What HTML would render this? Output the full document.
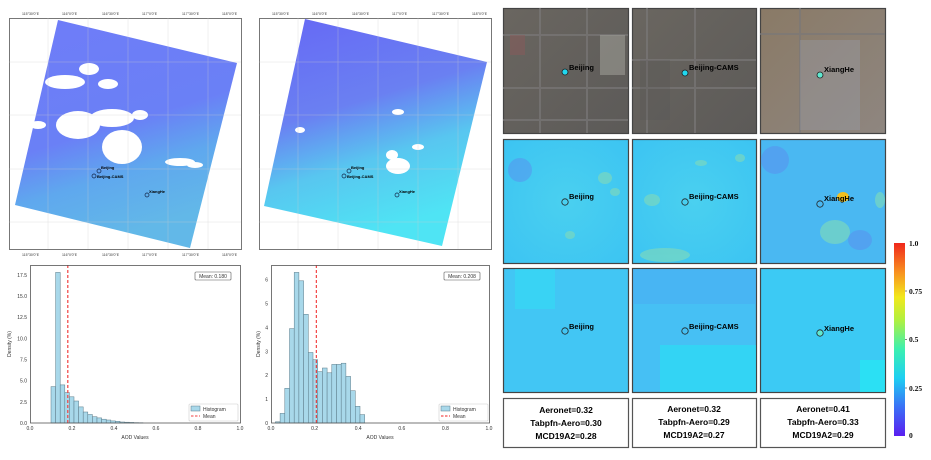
<!DOCTYPE html>
<html><head><meta charset="utf-8"><style>
body{margin:0;background:#fff;width:931px;height:460px;overflow:hidden}
svg{display:block;font-family:"Liberation Sans",sans-serif}
</style></head><body>
<svg width="931" height="460" viewBox="0 0 931 460" xmlns="http://www.w3.org/2000/svg">
<defs>
<linearGradient id="m1" x1="0" y1="0" x2="0.3" y2="1">
<stop offset="0" stop-color="#6f7cf8"/><stop offset="0.55" stop-color="#6a80f6"/><stop offset="0.75" stop-color="#5fa8ee"/><stop offset="1" stop-color="#62b8e8"/></linearGradient>
<linearGradient id="m2" x1="0" y1="0" x2="0.3" y2="1">
<stop offset="0" stop-color="#6668f5"/><stop offset="0.45" stop-color="#6a80f2"/><stop offset="0.7" stop-color="#58c6f0"/><stop offset="1" stop-color="#4fe4f4"/></linearGradient>
<linearGradient id="cb" x1="0" y1="1" x2="0" y2="0">
<stop offset="0" stop-color="#5a1ef0"/><stop offset="0.15" stop-color="#3a70f6"/><stop offset="0.3" stop-color="#1ecff2"/><stop offset="0.45" stop-color="#3cf0b0"/><stop offset="0.6" stop-color="#b0f040"/><stop offset="0.72" stop-color="#f2e81c"/><stop offset="0.85" stop-color="#f89020"/><stop offset="1" stop-color="#f0281c"/></linearGradient>
<linearGradient id="sat1" x1="0" y1="0" x2="1" y2="1"><stop offset="0" stop-color="#6a6660"/><stop offset="1" stop-color="#5c5a58"/></linearGradient>
<linearGradient id="sat3" x1="0" y1="0" x2="1" y2="1"><stop offset="0" stop-color="#8a7a66"/><stop offset="1" stop-color="#8e8680"/></linearGradient>
<radialGradient id="hm" cx="0.5" cy="0.5" r="0.7"><stop offset="0" stop-color="#4ad0f0"/><stop offset="1" stop-color="#3cc4f2"/></radialGradient>
</defs>

<!-- Map 1 -->
<rect x="9.5" y="18.5" width="232" height="231" fill="#fff" stroke="#777" stroke-width="1"/>
<polygon points="58,20 237,63 190,248 15,205" fill="url(#m1)"/>
<g fill="#fff">
<ellipse cx="89" cy="69" rx="10" ry="6"/><ellipse cx="65" cy="82" rx="20" ry="7"/><ellipse cx="108" cy="84" rx="10" ry="5"/>
<ellipse cx="78" cy="125" rx="22" ry="14"/><ellipse cx="112" cy="118" rx="22" ry="9"/><ellipse cx="122" cy="147" rx="20" ry="17"/>
<ellipse cx="140" cy="115" rx="8" ry="5"/><ellipse cx="180" cy="162" rx="15" ry="4"/><ellipse cx="195" cy="165" rx="8" ry="3"/>
<ellipse cx="38" cy="125" rx="8" ry="4"/>
</g>
<g stroke="#ccc" stroke-width="0.5" opacity="0.6">
<line x1="48" y1="18" x2="48" y2="249"/><line x1="88" y1="18" x2="88" y2="249"/><line x1="128" y1="18" x2="128" y2="249"/><line x1="168" y1="18" x2="168" y2="249"/><line x1="208" y1="18" x2="208" y2="249"/>
<line x1="9" y1="62" x2="241" y2="62"/><line x1="9" y1="115" x2="241" y2="115"/><line x1="9" y1="169" x2="241" y2="169"/><line x1="9" y1="222" x2="241" y2="222"/>
</g>
<g font-size="3.5" fill="#333"><text x="22" y="15">115°30'0"E</text><text x="62" y="15">116°0'0"E</text><text x="102" y="15">116°30'0"E</text><text x="142" y="15">117°0'0"E</text><text x="182" y="15">117°30'0"E</text><text x="222" y="15">118°0'0"E</text>
<text x="22" y="256">115°30'0"E</text><text x="62" y="256">116°0'0"E</text><text x="102" y="256">116°30'0"E</text><text x="142" y="256">117°0'0"E</text><text x="182" y="256">117°30'0"E</text><text x="222" y="256">118°0'0"E</text></g>
<g fill="none" stroke="#124" stroke-width="0.7"><circle cx="99" cy="171" r="2"/><circle cx="94" cy="176" r="2"/><circle cx="147" cy="195" r="2"/></g>
<g font-size="4" font-weight="bold" fill="#000"><text x="101" y="169">Beijing</text><text x="97" y="178">Beijing-CAMS</text><text x="149" y="193">XiangHe</text></g>

<!-- Map 2 -->
<rect x="259.5" y="18.5" width="232" height="231" fill="#fff" stroke="#777" stroke-width="1"/>
<polygon points="305,19 487,62 442,246 264,206" fill="url(#m2)"/>
<g fill="#fff"><ellipse cx="398" cy="112" rx="6" ry="3"/><ellipse cx="398" cy="166" rx="12" ry="8"/><ellipse cx="392" cy="155" rx="6" ry="5"/><ellipse cx="300" cy="130" rx="5" ry="3"/><ellipse cx="418" cy="147" rx="6" ry="3"/></g>
<g stroke="#ccc" stroke-width="0.5" opacity="0.6">
<line x1="298" y1="18" x2="298" y2="249"/><line x1="338" y1="18" x2="338" y2="249"/><line x1="378" y1="18" x2="378" y2="249"/><line x1="418" y1="18" x2="418" y2="249"/><line x1="458" y1="18" x2="458" y2="249"/>
<line x1="259" y1="62" x2="491" y2="62"/><line x1="259" y1="115" x2="491" y2="115"/><line x1="259" y1="169" x2="491" y2="169"/><line x1="259" y1="222" x2="491" y2="222"/>
</g>
<g font-size="3.5" fill="#333"><text x="272" y="15">115°30'0"E</text><text x="312" y="15">116°0'0"E</text><text x="352" y="15">116°30'0"E</text><text x="392" y="15">117°0'0"E</text><text x="432" y="15">117°30'0"E</text><text x="472" y="15">118°0'0"E</text></g>
<g fill="none" stroke="#124" stroke-width="0.7"><circle cx="349" cy="171" r="2"/><circle cx="344" cy="176" r="2"/><circle cx="397" cy="195" r="2"/></g>
<g font-size="4" font-weight="bold" fill="#000"><text x="351" y="169">Beijing</text><text x="347" y="178">Beijing-CAMS</text><text x="399" y="193">XiangHe</text></g>

<!-- Hist 1 -->
<g fill="#a8d8ea" stroke="#5a7a88" stroke-width="0.5">
<rect x="51" y="386.6" width="4.6" height="36.4"/><rect x="55.6" y="272.4" width="4.6" height="150.6"/><rect x="60.2" y="384.9" width="4.6" height="38.1"/><rect x="64.8" y="392.5" width="4.6" height="30.5"/><rect x="69.4" y="396.8" width="4.6" height="26.2"/><rect x="74" y="401" width="4.6" height="22"/><rect x="78.6" y="406.9" width="4.6" height="16.1"/><rect x="83.2" y="412" width="4.6" height="11"/><rect x="87.8" y="414.5" width="4.6" height="8.5"/><rect x="92.4" y="416.7" width="4.6" height="6.3"/><rect x="97" y="417.9" width="4.6" height="5.1"/><rect x="101.6" y="419.2" width="4.6" height="3.8"/><rect x="106.2" y="420" width="4.6" height="3"/><rect x="110.8" y="420.9" width="4.6" height="2.1"/><rect x="115.4" y="421.3" width="4.6" height="1.7"/><rect x="120" y="422" width="4.6" height="1"/><rect x="124.6" y="422.2" width="4.6" height="0.8"/><rect x="129.2" y="422.4" width="4.6" height="0.6"/><rect x="133.8" y="422.6" width="4.6" height="0.4"/><rect x="138.4" y="422.7" width="4.6" height="0.3"/>
</g>
<line x1="67.8" y1="265" x2="67.8" y2="423" stroke="#f04040" stroke-width="1.2" stroke-dasharray="3,2"/>
<rect x="30.5" y="265.5" width="210" height="157.5" fill="none" stroke="#555" stroke-width="0.8"/>
<g font-size="5" fill="#333" text-anchor="end">
<text x="27" y="425">0.0</text><text x="27" y="403.8">2.5</text><text x="27" y="382.7">5.0</text><text x="27" y="361.5">7.5</text><text x="27" y="340.4">10.0</text><text x="27" y="319.2">12.5</text><text x="27" y="298.1">15.0</text><text x="27" y="276.9">17.5</text></g>
<g font-size="5" fill="#333" text-anchor="middle"><text x="30" y="430">0.0</text><text x="72" y="430">0.2</text><text x="114" y="430">0.4</text><text x="156" y="430">0.6</text><text x="198" y="430">0.8</text><text x="240" y="430">1.0</text>
<text x="135" y="439">AOD Values</text><text transform="translate(11,344) rotate(-90)">Density (%)</text></g>
<rect x="195" y="272" width="36" height="8" fill="#fff" stroke="#555" stroke-width="0.6" rx="1"/><text x="213" y="278" font-size="5" text-anchor="middle" fill="#333">Mean: 0.180</text>
<rect x="189" y="404" width="49" height="17" fill="#fff" stroke="#ccc" stroke-width="0.6" rx="1"/>
<rect x="191" y="406" width="9" height="5" fill="#a8d8ea" stroke="#5a7a88" stroke-width="0.5"/><text x="203" y="411" font-size="5" fill="#333">Histogram</text>
<line x1="191" y1="416" x2="200" y2="416" stroke="#f04040" stroke-dasharray="2.5,1.5"/><text x="203" y="418" font-size="5" fill="#333">Mean</text>

<!-- Hist 2 -->
<g fill="#a8d8ea" stroke="#5a7a88" stroke-width="0.5">
<rect x="275.4" y="421.8" width="4.7" height="1.2"/><rect x="280.1" y="413.4" width="4.7" height="9.6"/><rect x="284.8" y="388.3" width="4.7" height="34.7"/><rect x="289.5" y="328.6" width="4.7" height="94.4"/><rect x="294.2" y="272.4" width="4.7" height="150.6"/><rect x="298.9" y="280.8" width="4.7" height="142.2"/><rect x="303.6" y="314.3" width="4.7" height="108.7"/><rect x="308.3" y="352.5" width="4.7" height="70.5"/><rect x="313" y="359.7" width="4.7" height="63.3"/><rect x="317.7" y="371.6" width="4.7" height="51.4"/><rect x="322.4" y="368" width="4.7" height="55"/><rect x="327.1" y="372.8" width="4.7" height="50.2"/><rect x="331.8" y="364.4" width="4.7" height="58.6"/><rect x="336.5" y="364.4" width="4.7" height="58.6"/><rect x="341.2" y="363.2" width="4.7" height="59.8"/><rect x="345.9" y="376.4" width="4.7" height="46.6"/><rect x="350.6" y="390.7" width="4.7" height="32.3"/><rect x="355.3" y="406.3" width="4.7" height="16.7"/><rect x="360" y="414.6" width="4.7" height="8.4"/>
</g>
<line x1="316.3" y1="265" x2="316.3" y2="423" stroke="#f02020" stroke-width="1" stroke-dasharray="3,2"/>
<rect x="271.5" y="265.5" width="218" height="157.5" fill="none" stroke="#555" stroke-width="0.8"/>
<g font-size="5" fill="#333" text-anchor="end">
<text x="268" y="425">0</text><text x="268" y="401.1">1</text><text x="268" y="377.2">2</text><text x="268" y="353.3">3</text><text x="268" y="329.4">4</text><text x="268" y="305.5">5</text><text x="268" y="281.6">6</text></g>
<g font-size="5" fill="#333" text-anchor="middle"><text x="271" y="430">0.0</text><text x="314.6" y="430">0.2</text><text x="358.2" y="430">0.4</text><text x="401.8" y="430">0.6</text><text x="445.4" y="430">0.8</text><text x="489" y="430">1.0</text>
<text x="380" y="439">AOD Values</text><text transform="translate(260,344) rotate(-90)">Density (%)</text></g>
<rect x="444" y="272" width="36" height="8" fill="#fff" stroke="#555" stroke-width="0.6" rx="1"/><text x="462" y="278" font-size="5" text-anchor="middle" fill="#333">Mean: 0.208</text>
<rect x="439" y="404" width="49" height="17" fill="#fff" stroke="#ccc" stroke-width="0.6" rx="1"/>
<rect x="441" y="406" width="9" height="5" fill="#a8d8ea" stroke="#5a7a88" stroke-width="0.5"/><text x="453" y="411" font-size="5" fill="#333">Histogram</text>
<line x1="441" y1="416" x2="450" y2="416" stroke="#f02020" stroke-dasharray="2.5,1.5"/><text x="453" y="418" font-size="5" fill="#333">Mean</text>

<!-- Right panel row 1 satellite -->
<g stroke="#444" stroke-width="1.2">
<rect x="503.5" y="8.5" width="125" height="125" fill="url(#sat1)"/>
<rect x="632.5" y="8.5" width="124" height="125" fill="url(#sat1)"/>
<rect x="760.5" y="8.5" width="125" height="125" fill="url(#sat3)"/>
</g>
<g stroke="#7a7878" stroke-width="2" opacity="0.7">
<line x1="503" y1="35" x2="628" y2="35"/><line x1="503" y1="88" x2="628" y2="88"/><line x1="503" y1="120" x2="628" y2="120"/><line x1="540" y1="8" x2="540" y2="133"/><line x1="587" y1="8" x2="587" y2="133"/>
<line x1="632" y1="60" x2="756" y2="60"/><line x1="632" y1="88" x2="756" y2="88"/><line x1="647" y1="8" x2="647" y2="133"/><line x1="695" y1="8" x2="695" y2="133"/>
<line x1="760" y1="34" x2="885" y2="34"/><line x1="800" y1="8" x2="800" y2="133"/>
</g>
<rect x="600" y="35" width="25" height="40" fill="#a8a8a0" opacity="0.5"/>
<rect x="510" y="35" width="15" height="20" fill="#8a5a5a" opacity="0.5"/>
<rect x="800" y="40" width="60" height="90" fill="#9aa0b0" opacity="0.35"/>
<rect x="640" y="60" width="30" height="60" fill="#555" opacity="0.25"/>

<!-- Row 2 heatmaps -->
<g stroke="#444" stroke-width="1.2">
<rect x="503.5" y="139.5" width="125" height="124" fill="url(#hm)"/>
<rect x="632.5" y="139.5" width="124" height="124" fill="url(#hm)"/>
<rect x="760.5" y="139.5" width="125" height="124" fill="#4ab8f2"/>
</g>
<g fill="#7ad8c0" opacity="0.7"><ellipse cx="605" cy="178" rx="7" ry="6"/><ellipse cx="615" cy="192" rx="5" ry="4"/><ellipse cx="570" cy="235" rx="5" ry="4"/>
<ellipse cx="701" cy="163" rx="6" ry="3"/><ellipse cx="652" cy="200" rx="8" ry="6"/><ellipse cx="665" cy="255" rx="25" ry="7"/><ellipse cx="740" cy="158" rx="5" ry="4"/>
<ellipse cx="835" cy="232" rx="15" ry="12"/><ellipse cx="880" cy="200" rx="5" ry="8"/></g>
<ellipse cx="843" cy="197" rx="6" ry="5" fill="#f2c020"/>
<g fill="#5a8ef0" opacity="0.5"><ellipse cx="775" cy="160" rx="14" ry="14"/><ellipse cx="860" cy="240" rx="12" ry="10"/><ellipse cx="520" cy="170" rx="12" ry="12"/></g>

<!-- Row 3 -->
<g stroke="#444" stroke-width="1.2">
<rect x="503.5" y="268.5" width="125" height="124" fill="#42c6f4"/>
<rect x="632.5" y="268.5" width="124" height="124" fill="#46c0f4"/>
<rect x="760.5" y="268.5" width="125" height="124" fill="#3ccaf4"/>
</g>
<rect x="515" y="269" width="40" height="40" fill="#30e0f4" opacity="0.5"/>
<rect x="633" y="269" width="123" height="35" fill="#4aaaf2" opacity="0.5"/>
<rect x="660" y="345" width="96" height="47" fill="#20e8f4" opacity="0.5"/>
<rect x="860" y="360" width="25" height="32" fill="#20eef4" opacity="0.6"/>

<!-- markers & labels -->
<g stroke="#222" stroke-width="0.8">
<circle cx="565" cy="72" r="3" fill="#20d8f0"/><circle cx="685" cy="73" r="3" fill="#20d8f0"/><circle cx="820" cy="75" r="3" fill="#60e8d0"/>
<circle cx="565" cy="202" r="3.2" fill="none"/><circle cx="685" cy="202" r="3.2" fill="none"/><circle cx="820" cy="204" r="3.2" fill="none"/>
<circle cx="565" cy="331" r="3.2" fill="none"/><circle cx="685" cy="331" r="3.2" fill="none"/><circle cx="820" cy="333" r="3.2" fill="#60e8d0"/>
</g>
<g font-size="7.5" font-weight="bold" fill="#000">
<text x="569" y="70">Beijing</text><text x="689" y="70">Beijing-CAMS</text><text x="824" y="72">XiangHe</text>
<text x="569" y="199">Beijing</text><text x="689" y="199">Beijing-CAMS</text><text x="824" y="201">XiangHe</text>
<text x="569" y="329">Beijing</text><text x="689" y="329">Beijing-CAMS</text><text x="824" y="331">XiangHe</text>
</g>

<!-- text boxes -->
<g stroke="#555" stroke-width="1.2" fill="#fff">
<rect x="503.5" y="398.5" width="125" height="49"/><rect x="632.5" y="398.5" width="124" height="49"/><rect x="760.5" y="398.5" width="125" height="49"/>
</g>
<g font-size="8.5" font-weight="bold" fill="#000" text-anchor="middle">
<text x="566" y="413">Aeronet=0.32</text><text x="566" y="426">Tabpfn-Aero=0.30</text><text x="566" y="439">MCD19A2=0.28</text>
<text x="694" y="412">Aeronet=0.32</text><text x="694" y="425">Tabpfn-Aero=0.29</text><text x="694" y="438">MCD19A2=0.27</text>
<text x="823" y="412">Aeronet=0.41</text><text x="823" y="425">Tabpfn-Aero=0.33</text><text x="823" y="438">MCD19A2=0.29</text>
</g>

<!-- colorbar -->
<rect x="894" y="243" width="11" height="193" fill="url(#cb)"/>
<g stroke="#333" stroke-width="0.6"><line x1="905" y1="291" x2="907" y2="291"/><line x1="905" y1="339.5" x2="907" y2="339.5"/><line x1="905" y1="388" x2="907" y2="388"/></g>
<g font-family="'Liberation Serif',serif" font-weight="bold" font-size="7.5" fill="#111">
<text x="909" y="246">1.0</text><text x="909" y="294">0.75</text><text x="909" y="342">0.5</text><text x="909" y="391">0.25</text><text x="909" y="438">0</text></g>
</svg>
</body></html>
